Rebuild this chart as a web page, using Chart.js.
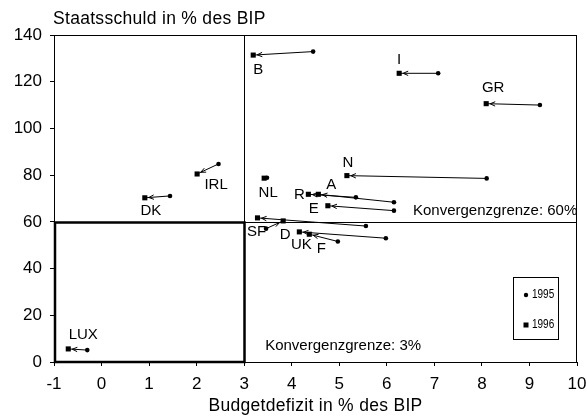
<!DOCTYPE html>
<html>
<head>
<meta charset="utf-8">
<script src="https://cdn.jsdelivr.net/npm/chart.js@4"></script>
<style>
  html, body { margin: 0; padding: 0; background: #fff; }
  canvas { display: block; }
</style>
</head>
<body>
<canvas id="c" width="587" height="417"></canvas>
<script>
// Werte
const countries   = ['B', 'I', 'GR', 'N', 'NL', 'IRL', 'DK', 'LUX', 'R', 'A', 'E', 'SF', 'D', 'UK', 'F'];
const deficit1995 = [4.45, 7.08, 9.22, 8.10, 3.48, 2.46, 1.44, -0.30, 5.35, 6.15, 6.15, 5.56, 3.46, 5.98, 4.97];
const debt1995    = [132.9, 123.6, 110.0, 78.6, 78.9, 84.8, 71.1, 5.1, 70.5, 68.4, 64.8, 58.2, 57.1, 53.0, 51.6];
const deficit1996 = [3.19, 6.26, 8.09, 5.16, 3.42, 2.01, 0.91, -0.70, 4.35, 4.56, 4.76, 3.28, 3.82, 4.16, 4.37];
const debt1996    = [131.4, 123.6, 110.6, 79.8, 78.7, 80.5, 70.3, 5.6, 71.8, 71.8, 66.9, 61.7, 60.4, 55.7, 54.7];
const years = ['1995', '1996'];
const xTicks = [-1, 0, 1, 2, 3, 4, 5, 6, 7, 8, 9, 10];
const yTicks = [0, 20, 40, 60, 80, 100, 120, 140];
const debtLimit = 60;
const deficitLimit = 3;

const FONT = '"Liberation Sans", Arial, sans-serif';

// label offsets (px) relative to the 1996 marker
const labelOffsets = {
  B: [5, 15], I: [0, -13], GR: [7, -16], N: [1, -13], NL: [4, 15],
  IRL: [19, 11], DK: [6, 13], LUX: [15, -14], R: [-9, 1], A: [13, -9],
  E: [-14, 3], SF: [-1, 14], D: [2, 14], UK: [2, 13], F: [12, 15]
};

const datasets = countries.map((c, i) => ({
  label: c,
  data: [{ x: deficit1995[i], y: debt1995[i] }, { x: deficit1996[i], y: debt1996[i] }],
  showLine: true,
  borderColor: '#000',
  borderWidth: 1,
  pointStyle: ['circle', 'rect'],
  pointRadius: [2.3, 3.6],
  pointBackgroundColor: '#000',
  pointBorderColor: '#000',
  pointBorderWidth: 0
}));

const decorations = {
  id: 'decorations',
  beforeDatasetsDraw(chart) {
    const { ctx, chartArea: a, scales: { x, y } } = chart;
    ctx.save();
    ctx.strokeStyle = '#000';
    // frame
    ctx.lineWidth = 1;
    ctx.strokeRect(a.left + 0.5, a.top + 0.5, a.right - a.left - 1, a.bottom - a.top);
    // Konvergenzgrenzen
    const xl = Math.round(x.getPixelForValue(deficitLimit)) + 0.5;
    const yl = Math.round(y.getPixelForValue(debtLimit)) + 0.5;
    ctx.beginPath();
    ctx.moveTo(xl, a.top); ctx.lineTo(xl, a.bottom);
    ctx.moveTo(a.left, yl); ctx.lineTo(a.right, yl);
    ctx.stroke();
    // thick box
    ctx.lineWidth = 2.5;
    ctx.strokeRect(x.getPixelForValue(-1) + 1, yl, xl - x.getPixelForValue(-1) - 1, y.getPixelForValue(0) - yl);
    ctx.restore();
  },
  afterDatasetsDraw(chart) {
    const { ctx, chartArea: a, scales: { x, y } } = chart;
    ctx.save();
    ctx.strokeStyle = '#000';
    ctx.fillStyle = '#000';
    ctx.lineWidth = 1;
    // arrowheads
    chart.data.datasets.forEach((ds, i) => {
      const pts = chart.getDatasetMeta(i).data;
      const p0 = pts[0], p1 = pts[1];
      const dx = p0.x - p1.x, dy = p0.y - p1.y;
      const len = Math.hypot(dx, dy);
      if (len < 10) return;
      const ux = dx / len, uy = dy / len;
      const tx = p1.x + ux * 4, ty = p1.y + uy * 4;
      const bx = tx + ux * 5, by = ty + uy * 5;
      ctx.beginPath();
      ctx.moveTo(bx - uy * 2.2, by + ux * 2.2);
      ctx.lineTo(tx, ty);
      ctx.lineTo(bx + uy * 2.2, by - ux * 2.2);
      ctx.stroke();
    });
    // country labels
    ctx.font = '15px ' + FONT;
    ctx.textAlign = 'center';
    ctx.textBaseline = 'middle';
    chart.data.datasets.forEach((ds, i) => {
      const p1 = chart.getDatasetMeta(i).data[1];
      const off = labelOffsets[ds.label] || [0, 0];
      ctx.fillText(ds.label, p1.x + off[0], p1.y + off[1]);
    });
    // limit texts
    ctx.textAlign = 'left';
    ctx.font = '15px ' + FONT;
    ctx.fillText('Konvergenzgrenze: ' + debtLimit + '%', a.right - 164, y.getPixelForValue(debtLimit) - 11);
    ctx.fillText('Konvergenzgrenze: ' + deficitLimit + '%', x.getPixelForValue(deficitLimit) + 21, a.bottom - 16);
    // axis titles
    ctx.font = '17.5px ' + FONT;
    ctx.letterSpacing = '0.3px';
    ctx.fillText('Staatsschuld in % des BIP', a.left - 1, 19);
    ctx.textAlign = 'center';
    ctx.fillText('Budgetdefizit in % des BIP', (a.left + a.right) / 2 + 0, 406);
    ctx.letterSpacing = '0px';
    // legend box
    const lx = a.right - 64, ly = a.bottom - 85;
    ctx.strokeRect(lx + 0.5, ly + 0.5, 45, 62);
    ctx.beginPath();
    ctx.arc(lx + 13, ly + 18, 2.2, 0, Math.PI * 2);
    ctx.fill();
    ctx.fillRect(lx + 10.5, ly + 45.5, 5, 5);
    ctx.font = '12.5px ' + FONT;
    ctx.textAlign = 'left';
    [18, 48].forEach((dy, k) => {
      ctx.save();
      ctx.translate(lx + 19, ly + dy);
      ctx.scale(0.8, 1);
      ctx.fillText(years[k], 0, 0);
      ctx.restore();
    });
    ctx.restore();
  }
};

new Chart(document.getElementById('c'), {
  type: 'scatter',
  data: { datasets },
  options: {
    responsive: false,
    animation: false,
    layout: { padding: { top: 35, right: 0, left: 0, bottom: 0 } },
    plugins: { legend: { display: false }, tooltip: { enabled: false } },
    scales: {
      x: {
        type: 'linear',
        min: xTicks[0], max: xTicks[xTicks.length - 1],
        afterBuildTicks: s => { s.ticks = xTicks.map(v => ({ value: v })); },
        afterFit: s => { s.height = 55; s.paddingRight = 10; s.paddingLeft = 0; },
        border: { color: '#000', width: 1 },
        grid: { drawOnChartArea: false, color: '#000', tickLength: 4 },
        ticks: { color: '#000', font: { family: FONT, size: 17 }, padding: 8, maxRotation: 0 }
      },
      y: {
        type: 'linear',
        min: yTicks[0], max: yTicks[yTicks.length - 1],
        afterBuildTicks: s => { s.ticks = yTicks.map(v => ({ value: v })); },
        afterFit: s => { s.width = 54; },
        border: { color: '#000', width: 1 },
        grid: { drawOnChartArea: false, color: '#000', tickLength: 4 },
        ticks: { color: '#000', font: { family: FONT, size: 17 }, padding: 8 }
      }
    }
  },
  plugins: [decorations]
});
</script>
</body>
</html>
